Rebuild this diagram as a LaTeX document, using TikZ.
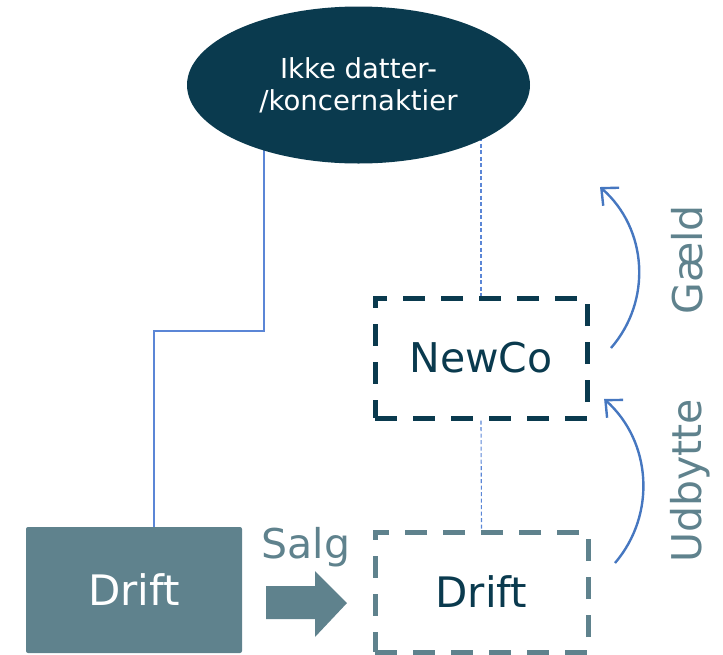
\documentclass[tikz,border=0pt]{standalone}
\usepackage{fontspec}
\setmainfont{DejaVu Sans}
\usetikzlibrary{shapes.geometric,arrows.meta,backgrounds}
\definecolor{deepteal}{HTML}{0A3A4E}
\definecolor{slate}{HTML}{5F828D}
\definecolor{linkblue}{HTML}{5B86D6}
\definecolor{flowblue}{HTML}{4677C0}
\tikzset{
  owner/.style={ellipse, fill=deepteal, text=white, minimum width=343pt, minimum height=157pt,
    inner sep=0pt, align=center, font=\fontsize{27.5}{31}\selectfont},
  newbox/.style={draw=deepteal, line width=5pt, dash pattern=on 22pt off 16pt, minimum width=212pt,
    minimum height=120pt, inner sep=0pt, text=deepteal, font=\fontsize{41}{48}\selectfont},
  opbox/.style={fill=slate, rounded corners=2pt, minimum width=216pt, minimum height=126pt,
    inner sep=0pt, text=white, font=\fontsize{42}{48}\selectfont},
  futurebox/.style={draw=slate, line width=5pt, dash pattern=on 22pt off 16pt, minimum width=213pt,
    minimum height=120pt, inner sep=0pt, text=deepteal, font=\fontsize{42}{48}\selectfont},
  flowlabel/.style={text=slate, inner sep=0pt, font=\fontsize{41}{48}\selectfont},
  tie/.style={draw=linkblue, line width=1.1pt},
  looseTie/.style={draw=linkblue, line width=1.1pt, dash pattern=on 4pt off 2.5pt},
  flow/.style={draw=flowblue, line width=2.4pt, -{Straight Barb[length=13pt, width=24pt, line width=2.4pt]}},
}
\begin{document}
\begin{tikzpicture}[x=1pt, y=-1pt]
\useasboundingbox (0,0) rectangle (723,654);

% entities
\node[owner] (top) at (358.5,85) {Ikke datter-\\[1pt]/koncernaktier};
\node[newbox] (newco) at (481,358) {NewCo};
\node[opbox] (drift1) at (134,590) {Drift};
\node[futurebox] (drift2) at (481.5,592) {Drift};

% transfer arrow with its label
\node[flowlabel, anchor=base] (salg) at (306,558) {Salg};
\fill[slate] (266,586) -- (315,586) -- (315,571) -- (347,603) -- (315,637) -- (315,619) -- (266,619) -- cycle;

% ownership lines, drawn behind the ellipse
\coordinate (bendA) at (264,331);
\coordinate (bendB) at (154,331);
\begin{scope}[on background layer]
  \draw[tie] (top.center -| bendA) -- (bendA) -- (bendB) -- (drift1.north -| bendB);
  \draw[looseTie] (top.center -| newco.north) -- (newco.north);
  \draw[looseTie] (newco.south) -- (drift2.north);
\end{scope}

% cash flows upward, as circular arcs
\coordinate (g0) at (611,348);
\coordinate (u0) at (615,563);
\draw[flow] (g0) arc[start angle=41, end angle=-48.8, radius=114.3];
\draw[flow] (u0) arc[start angle=40.5, end angle=-48.1, radius=117.7];
\node[flowlabel, rotate=90] (gaeld) at (687,260) {Gæld};
\node[flowlabel, rotate=90] (udbytte) at (690,481) {Udbytte};
\end{tikzpicture}
\end{document}
